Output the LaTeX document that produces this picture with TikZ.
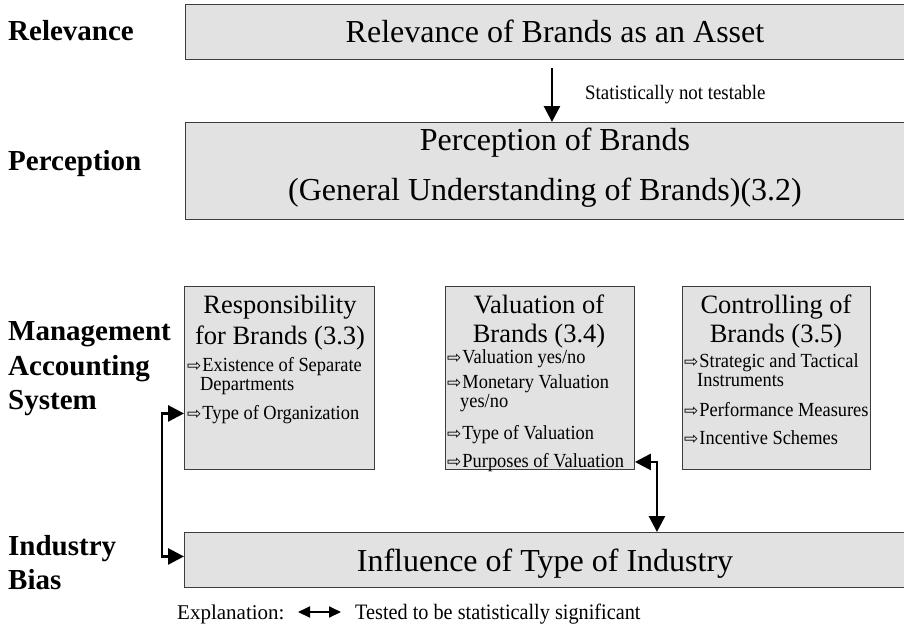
\documentclass[tikz,border=0pt]{standalone}
\usepackage{fontspec}
\setmainfont{Liberation Serif}
\newfontfamily\condfont{Liberation Serif}[FakeStretch=0.92]
\newfontfamily\dejavu{DejaVu Sans}
\usetikzlibrary{arrows.meta}
\definecolor{boxfill}{RGB}{226,226,226}
\definecolor{boxline}{RGB}{60,60,60}
\newcommand{\bul}{{\dejavu\fontsize{17pt}{17pt}\selectfont ⇨}\hspace{1pt}}
\begin{document}
\begin{tikzpicture}[x=1pt,y=-1pt,
  box/.style={draw=boxline, fill=boxfill, line width=0.9pt, inner sep=0pt, anchor=north west},
  lbl/.style={font=\fontsize{29pt}{29pt}\selectfont\bfseries, anchor=base west, inner sep=0pt},
  big/.style={font=\fontsize{32pt}{32pt}\selectfont, anchor=base, inner sep=0pt},
  ttl/.style={font=\fontsize{26.5pt}{26.5pt}\selectfont, anchor=base, inner sep=0pt},
  itm/.style={font=\condfont\fontsize{20pt}{16pt}\selectfont, anchor=base west, inner sep=0pt, align=left},
  note/.style={font=\condfont\fontsize{20.5pt}{20pt}\selectfont, anchor=base west, inner sep=0pt},
  leg/.style={font=\fontsize{21pt}{21pt}\selectfont, anchor=base west, inner sep=0pt},
  legc/.style={font=\condfont\fontsize{22pt}{22pt}\selectfont, anchor=base west, inner sep=0pt},
  conn/.style={line width=2.7pt, {Triangle[length=16pt,width=16pt]}-{Triangle[length=16pt,width=16pt]}},
  oneway/.style={line width=2.7pt, -{Triangle[length=16pt,width=16pt]}},
  legarrow/.style={line width=2pt, {Triangle[length=12pt,width=11pt]}-{Triangle[length=12pt,width=11pt]}}
]
\useasboundingbox (0,0) rectangle (904,637);

% boxes
\node[box, minimum width=725pt, minimum height=55pt] (rel) at (185,4) {};
\node[box, minimum width=725pt, minimum height=97pt] (perc) at (185,122) {};
\node[box, minimum width=190pt, minimum height=183pt] (resp) at (184,286) {};
\node[box, minimum width=189pt, minimum height=183pt] (val) at (445,286) {};
\node[box, minimum width=188pt, minimum height=183pt] (ctrl) at (682,286) {};
\node[box, minimum width=725pt, minimum height=55pt] (ind) at (184,532) {};

% left labels
\node[lbl] (l1) at (8,40) {Relevance};
\node[lbl] (l2) at (8,170) {Perception};
\node[lbl] (l3) at (8,340) {Management};
\node[lbl] (l4) at (8,375) {Accounting};
\node[lbl] (l5) at (8,409) {System};
\node[lbl] (l6) at (8,555) {Industry};
\node[lbl] (l7) at (8,589) {Bias};

% big box texts
\node[big] (t1) at (555,42) {Relevance of Brands as an Asset};
\node[big] (t2) at (555,150) {Perception of Brands};
\node[big] (t3) at (545,200) {(General Understanding of Brands)(3.2)};
\node[big] (t4) at (545,571) {Influence of Type of Industry};

% responsibility (multi-line items: base = last line)
\node[ttl] (r1) at (280,313) {Responsibility};
\node[ttl] (r2) at (280,344) {for Brands (3.3)};
\node[itm] (r3) at (187,390) {\bul Existence of Separate\\\hspace*{13pt}Departments};
\node[itm] (r5) at (187,419) {\bul Type of Organization};

% valuation
\node[ttl] (v1) at (539,313) {Valuation of};
\node[ttl] (v2) at (539,342) {Brands (3.4)};
\node[itm] (v3) at (447,363) {\bul Valuation yes/no};
\node[itm] (v4) at (447,407) {\bul Monetary Valuation\\\hspace*{13pt}yes/no};
\node[itm] (v6) at (447,439) {\bul Type of Valuation};
\node[itm] (v7) at (447,467) {\bul Purposes of Valuation};

% controlling
\node[ttl] (c1) at (776,313) {Controlling of};
\node[ttl] (c2) at (776,342) {Brands (3.5)};
\node[itm] (c3) at (684,386) {\bul Strategic and Tactical\\\hspace*{13pt}Instruments};
\node[itm] (c5) at (684,416) {\bul Performance Measures};
\node[itm] (c6) at (684,444) {\bul Incentive Schemes};

% note
\node[note] (nt) at (585,99) {Statistically not testable};

% connectors
\draw[oneway] ([xshift=4pt,yshift=-8pt]rel.south) -- ([xshift=4pt]perc.north);
\draw[conn] ([yshift=-35.5pt]resp.west) -- ++(-22,0) |- ([yshift=3.5pt]ind.west);
\draw[conn] ([yshift=-84pt]val.east) -| ([xshift=110pt]ind.north);

% legend
\node[leg] (ex) at (177,619) {Explanation:};
\node[legc] (ts) at (355,619) {Tested to be statistically significant};
\coordinate (la) at (298,612);
\coordinate (lb) at (341,612);
\draw[legarrow] (la) -- (lb);
\end{tikzpicture}
\end{document}
